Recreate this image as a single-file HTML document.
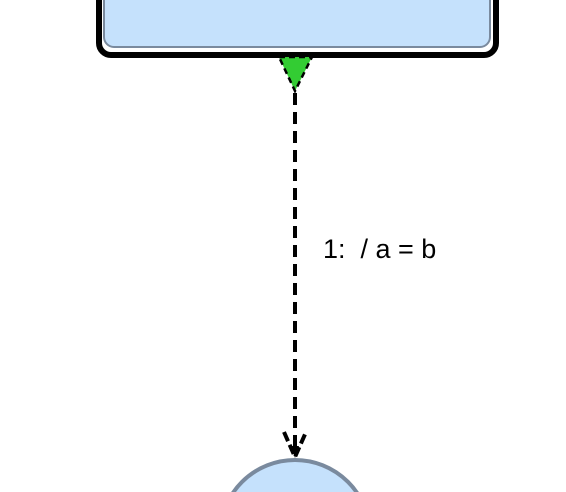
<!DOCTYPE html>
<html><head><style>html,body{margin:0;background:#fff;overflow:hidden;width:566px;height:492px}svg{display:block}</style></head><body>
<svg width="566" height="492" viewBox="0 0 566 492" xmlns="http://www.w3.org/2000/svg">
<rect x="99" y="-30" width="397" height="85" rx="12" fill="#fff" stroke="#000" stroke-width="6"/>
<rect x="104" y="-25" width="386" height="72" rx="10" fill="#c5e1fc" stroke="#7a8a9e" stroke-width="2"/>
<polygon points="279,57 312,57 295,91" fill="#33cc33" stroke="#000" stroke-width="2.5" stroke-dasharray="6,4"/>
<line x1="295" y1="93" x2="295" y2="452" stroke="#000" stroke-width="4" stroke-dasharray="12,7"/>
<path d="M284,432 L295,457 L306,432" fill="none" stroke="#000" stroke-width="4" stroke-dasharray="10,4"/>
<polygon points="291,446 299,446 295,458" fill="#000"/>
<circle cx="295" cy="535" r="75" fill="#c5e1fc" stroke="#7a8a9e" stroke-width="4"/>
<text x="323" y="258" font-family="Liberation Sans, sans-serif" font-size="27" fill="#000" xml:space="preserve">1:  / a = b</text>
</svg>
</body></html>
